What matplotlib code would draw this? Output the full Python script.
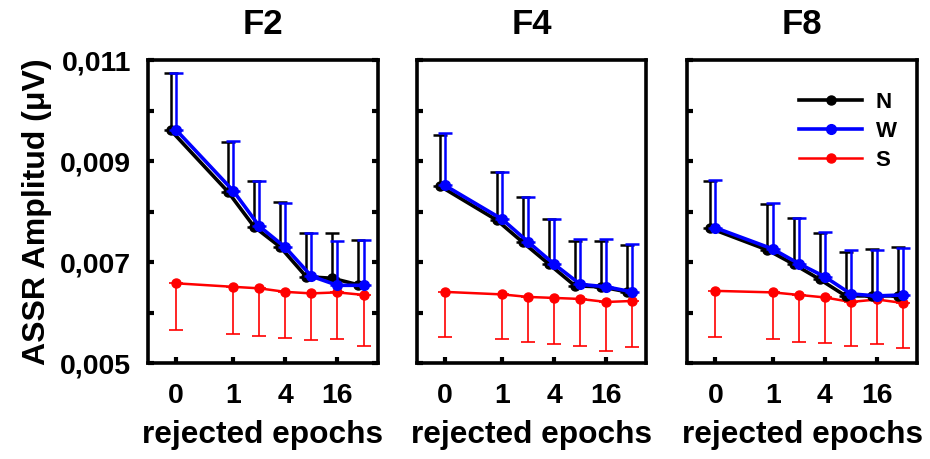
import numpy as np
import matplotlib.pyplot as plt

plt.rcParams['font.family'] = ['Liberation Sans', 'DejaVu Sans']
plt.rcParams['font.weight'] = 'bold'

# rejected epochs (x values)
epochs = [0, 1, 2, 4, 8, 16, 32]
panels = ['F2', 'F4', 'F8']

# means and upper/lower error bar ends
N_mean = {
    'F2': [0.00961, 0.00839, 0.00770, 0.00730, 0.00671, 0.00668, 0.00655],
    'F4': [0.00851, 0.00783, 0.00739, 0.00696, 0.00653, 0.00651, 0.00641],
    'F8': [0.00767, 0.00724, 0.00696, 0.00666, 0.00633, 0.00633, 0.00633],
}
N_top = {
    'F2': [0.01074, 0.00938, 0.00860, 0.00819, 0.00758, 0.00758, 0.00744],
    'F4': [0.00951, 0.00878, 0.00829, 0.00785, 0.00742, 0.00742, 0.00734],
    'F8': [0.00861, 0.00815, 0.00787, 0.00757, 0.00720, 0.00726, 0.00729],
}
W_mean = {
    'F2': [0.00962, 0.00841, 0.00771, 0.00729, 0.00672, 0.00654, 0.00654],
    'F4': [0.00852, 0.00785, 0.00740, 0.00696, 0.00656, 0.00651, 0.00641],
    'F8': [0.00768, 0.00726, 0.00697, 0.00671, 0.00637, 0.00633, 0.00635],
}
W_top = {
    'F2': [0.01075, 0.00940, 0.00860, 0.00817, 0.00758, 0.00742, 0.00744],
    'F4': [0.00955, 0.00879, 0.00829, 0.00785, 0.00745, 0.00745, 0.00736],
    'F8': [0.00862, 0.00817, 0.00787, 0.00759, 0.00724, 0.00724, 0.00728],
}
S_mean = {
    'F2': [0.00658, 0.00651, 0.00648, 0.00641, 0.00638, 0.00640, 0.00635],
    'F4': [0.00641, 0.00636, 0.00631, 0.00629, 0.00627, 0.00621, 0.00623],
    'F8': [0.00643, 0.00640, 0.00635, 0.00630, 0.00621, 0.00626, 0.00619],
}
S_bottom = {
    'F2': [0.00565, 0.00557, 0.00553, 0.00549, 0.00546, 0.00547, 0.00534],
    'F4': [0.00552, 0.00548, 0.00541, 0.00538, 0.00534, 0.00524, 0.00531],
    'F8': [0.00551, 0.00548, 0.00542, 0.00539, 0.00534, 0.00537, 0.00529],
}

# position on a log2 axis, 0 put a bit before 1
xpos = np.array([-2.2 if e == 0 else np.log2(e) for e in epochs])
zeros = np.zeros(len(epochs))

fig = plt.figure(figsize=(9.3, 4.59), dpi=100)
lefts = [0.159, 0.448, 0.739]
w, b, h = 0.247, 0.209, 0.660

for i, p in enumerate(panels):
    ax = fig.add_axes([lefts[i], b, w, h])

    # N (black), slightly shifted left
    m = np.array(N_mean[p])
    ax.errorbar(xpos - 0.2, m, yerr=[zeros, np.array(N_top[p]) - m], fmt='none',
                ecolor='black', elinewidth=1.8, capsize=5, capthick=1.8, zorder=3)
    ax.plot(xpos - 0.2, m, color='black', lw=2.6, marker='o', ms=6.5, label='N', zorder=3)
    # W (blue)
    m = np.array(W_mean[p])
    ax.errorbar(xpos, m, yerr=[zeros, np.array(W_top[p]) - m], fmt='none',
                ecolor='#0000ff', elinewidth=1.8, capsize=5, capthick=1.8, zorder=4)
    ax.plot(xpos, m, color='#0000ff', lw=2.6, marker='o', ms=7, label='W', zorder=4)
    # S (red), error bars downwards
    m = np.array(S_mean[p])
    ax.errorbar(xpos, m, yerr=[m - np.array(S_bottom[p]), zeros], fmt='none',
                ecolor='#ff0000', elinewidth=1.2, capsize=5, capthick=1.2, zorder=2)
    ax.plot(xpos, m, color='#ff0000', lw=1.8, marker='o', ms=6.5, label='S', zorder=2)

    ax.set_xlim(-3.28, 5.54)
    ax.set_ylim(0.005, 0.011)
    ax.set_xticks([xpos[0], 0, 2, 4])
    ax.set_xticklabels(['0', '1', '4', '16'])
    ax.set_yticks(np.arange(0.005, 0.0111, 0.001))
    if i == 0:
        ax.set_yticklabels(['0,005', '', '0,007', '', '0,009', '', '0,011'])
        ax.set_ylabel('ASSR Amplitud (μV)', fontsize=23, fontweight='bold', labelpad=6)
        ax.tick_params(axis='y', right=True)
    else:
        ax.set_yticklabels([])
    ax.tick_params(direction='in', length=4, width=3, labelsize=20.5, pad=12)
    ax.tick_params(axis='x', pad=14)
    for s in ax.spines.values():
        s.set_linewidth(2.6)
    ax.set_title(p, fontsize=25, fontweight='bold', pad=19)
    ax.set_xlabel('rejected epochs', fontsize=22.8, fontweight='bold', labelpad=8)
    if p == 'F8':
        ax.legend(loc='upper right', bbox_to_anchor=(0.95, 0.924), borderaxespad=0,
                  frameon=False, fontsize=16, handlelength=2.85,
                  labelspacing=0.36, handletextpad=0.6)

fig.savefig('out.png', dpi=100)
